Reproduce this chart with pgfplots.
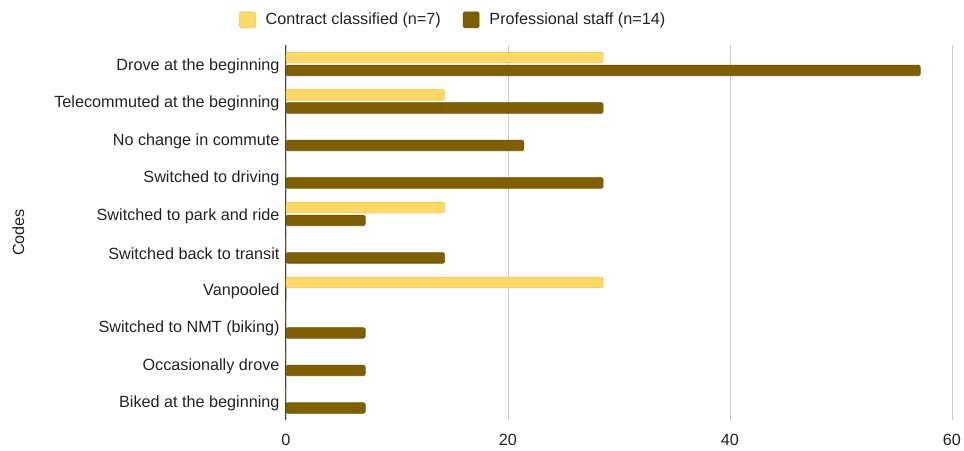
\documentclass[border=0pt]{standalone}
\usepackage{pgfplots}
\pgfplotsset{compat=1.18}
\usepackage{fontspec}
\setmainfont{Liberation Sans}
\definecolor{cyel}{HTML}{FFD966}
\definecolor{cyelb}{HTML}{EDC14F}
\definecolor{cbrn}{HTML}{7F6000}
\definecolor{cbrnb}{HTML}{6E5300}
\definecolor{ctxt}{HTML}{222222}
\begin{document}
\begin{tikzpicture}[font=\fontsize{16.2}{19}\selectfont]
\begin{axis}[
  scale only axis,
  width=666pt, height=375pt,
  xbar,
  xmin=0, xmax=60,
  ymin=-0.5, ymax=9.5,
  xtick={0,20,40,60},
  ytick={0,1,2,3,4,5,6,7,8,9},
  yticklabels={Biked at the beginning, Occasionally drove, Switched to NMT (biking), Vanpooled, Switched back to transit, Switched to park and ride, Switched to driving, No change in commute, Telecommuted at the beginning, Drove at the beginning},
  major tick length=0pt,
  axis line style={draw=none},
  xmajorgrids,
  grid style={draw=black!20, line width=0.8pt},
  extra x ticks={0},
  extra x tick labels={},
  extra x tick style={grid style={draw=black!75, line width=1pt}},
  /pgf/number format/assume math mode=true,
  ticklabel style={font=\fontsize{16.2}{19}\selectfont, text=ctxt},
  yticklabel style={xshift=-3pt, yshift=-2.5pt},
  xticklabel style={yshift=-11pt},
  ylabel={Codes},
  ylabel style={at={(axis description cs:-0.402,0.5)}, anchor=center, font=\fontsize{16.2}{19}\selectfont, text=ctxt},
  bar width=10.5pt,
  legend columns=2,
  legend style={at={(axis description cs:0.251,1.067)}, anchor=center, draw=none, fill=none,
    font=\fontsize{16.2}{19}\selectfont, text=ctxt,
    /tikz/every odd column/.append style={column sep=8pt},
    /tikz/every even column/.append style={column sep=20pt}},
  legend image code/.code={\fill[#1] (0pt,-8pt) rectangle (16pt,8pt);},
]
\coordinate (o) at (rel axis cs:0,0);
\addplot[fill=cyel, draw=cyelb, line width=0.6pt, rounded corners=1.5pt, bar shift=6.25pt] coordinates {
  (28.57,9) (14.29,8) (0,7) (0,6) (14.29,5) (0,4) (28.57,3) (0,2) (0,1) (0,0)};
\addlegendentry{Contract classified (n=7)}
\addplot[fill=cbrn, draw=cbrnb, line width=0.6pt, rounded corners=1.5pt, bar shift=-6.75pt] coordinates {
  (57.14,9) (28.57,8) (21.43,7) (28.57,6) (7.14,5) (14.29,4) (0,3) (7.14,2) (7.14,1) (7.14,0)};
\addlegendentry{Professional staff (n=14)}
\end{axis}
\pgfresetboundingbox
\path ([shift={(-286pt,-30pt)}]o) rectangle ([shift={(678pt,420pt)}]o);
\end{tikzpicture}
\end{document}
